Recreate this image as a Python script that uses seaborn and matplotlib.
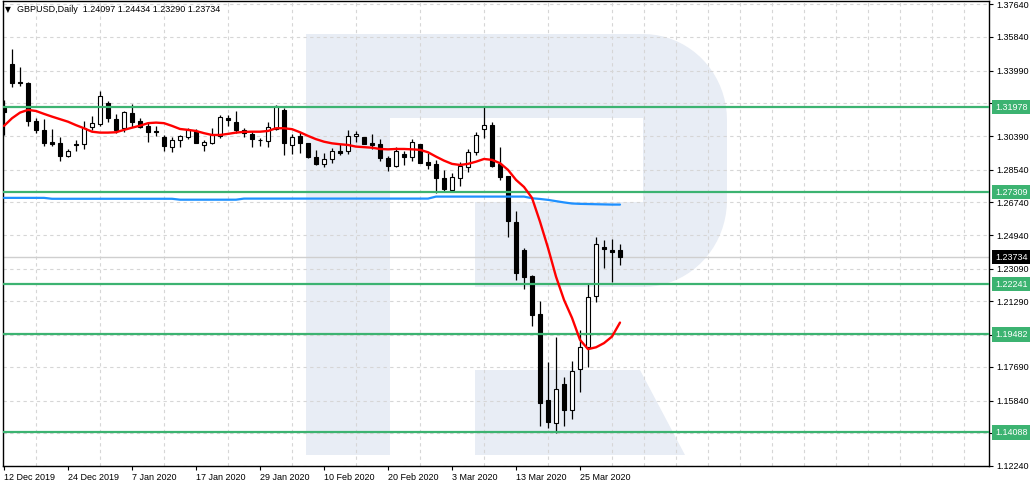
import numpy as np
import pandas as pd
import matplotlib
matplotlib.use("Agg")
import matplotlib.pyplot as plt
import matplotlib.ticker as mticker
from matplotlib.patches import Polygon
from matplotlib.transforms import Affine2D
import seaborn as sns

# ---------------- data ----------------
symbol = "GBPUSD,Daily"

opens = [1.3201, 1.3436, 1.3335, 1.3331, 1.3122, 1.3073, 1.3007, 1.3001, 1.2931, 1.2994,
         1.2994, 1.3088, 1.3106, 1.3221, 1.3133, 1.3082, 1.3166, 1.3122, 1.3095, 1.3067,
         1.3036, 1.2981, 1.3016, 1.3036, 1.3067, 1.2992, 1.3003, 1.3041, 1.3139, 1.3115,
         1.3073, 1.3051, 1.3018, 1.3012, 1.3080, 1.3183, 1.2989, 1.3038, 1.2999, 1.2923,
         1.2884, 1.2912, 1.2957, 1.2959, 1.3038, 1.3034, 1.2999, 1.2996, 1.2917, 1.2876,
         1.2941, 1.2923, 1.2996, 1.2897, 1.2886, 1.2807, 1.2744, 1.2807, 1.2868, 1.2950,
         1.3077, 1.3100, 1.2884, 1.2820, 1.2567, 1.2413, 1.2270, 1.2059, 1.1588, 1.1463,
         1.1676, 1.1534, 1.1757, 1.1877, 1.2161, 1.2427, 1.2413, 1.24097]
highs = [1.3238, 1.3518, 1.3421, 1.3338, 1.3137, 1.3133, 1.3078, 1.3036, 1.2968, 1.3018,
         1.3124, 1.3150, 1.3287, 1.3232, 1.3159, 1.3176, 1.3214, 1.3140, 1.3110, 1.3096,
         1.3045, 1.3036, 1.3045, 1.3084, 1.3077, 1.3018, 1.3085, 1.3155, 1.3155, 1.3177,
         1.3082, 1.3067, 1.3030, 1.3115, 1.3210, 1.3192, 1.3049, 1.3063, 1.3003, 1.2963,
         1.2945, 1.2972, 1.2994, 1.3073, 1.3067, 1.3036, 1.3049, 1.3023, 1.2930, 1.2981,
         1.2959, 1.3021, 1.2998, 1.2945, 1.2908, 1.2853, 1.2838, 1.2898, 1.2968, 1.3060,
         1.3205, 1.3115, 1.2981, 1.2822, 1.2627, 1.2422, 1.2274, 1.2132, 1.1797, 1.1934,
         1.1714, 1.1802, 1.1973, 1.2229, 1.2484, 1.2468, 1.2473, 1.24434]
lows = [1.3045, 1.3308, 1.3316, 1.3096, 1.3058, 1.2985, 1.2985, 1.2904, 1.2923, 1.2959,
        1.2967, 1.3071, 1.3095, 1.3117, 1.3056, 1.3060, 1.3091, 1.3082, 1.3008, 1.3040,
        1.2959, 1.2953, 1.2981, 1.3021, 1.2999, 1.2959, 1.2994, 1.3030, 1.3096, 1.3055,
        1.3033, 1.2978, 1.2985, 1.2981, 1.3071, 1.2937, 1.2941, 1.2948, 1.2917, 1.2880,
        1.2871, 1.2893, 1.2935, 1.2941, 1.3008, 1.2994, 1.2968, 1.2902, 1.2849, 1.2871,
        1.2880, 1.2904, 1.2890, 1.2858, 1.2725, 1.2739, 1.2739, 1.2766, 1.2843, 1.2935,
        1.3030, 1.2871, 1.2798, 1.2486, 1.2248, 1.2200, 1.1996, 1.1445, 1.1432, 1.1408,
        1.1446, 1.1485, 1.1633, 1.1771, 1.2128, 1.2315, 1.2238, 1.23290]
closes = [1.3173, 1.3330, 1.3333, 1.3124, 1.3074, 1.3003, 1.2997, 1.2931, 1.2956, 1.2989,
          1.3084, 1.3110, 1.3258, 1.3137, 1.3074, 1.3170, 1.3118, 1.3089, 1.3063, 1.3060,
          1.2986, 1.3016, 1.3038, 1.3074, 1.3003, 1.3007, 1.3045, 1.3143, 1.3128, 1.3071,
          1.3055, 1.3025, 1.3016, 1.3091, 1.3205, 1.2999, 1.3033, 1.2999, 1.2926, 1.2884,
          1.2912, 1.2957, 1.2948, 1.3038, 1.3049, 1.2997, 1.2992, 1.2920, 1.2876, 1.2957,
          1.2926, 1.3005, 1.2893, 1.2880, 1.2810, 1.2748, 1.2814, 1.2875, 1.2950, 1.3044,
          1.3099, 1.2876, 1.2816, 1.2574, 1.2288, 1.2266, 1.2057, 1.1573, 1.1468, 1.1647,
          1.1533, 1.1746, 1.1877, 1.2153, 1.2444, 1.2417, 1.2403, 1.23734]

ma_red = [1.3095, 1.3137, 1.3168, 1.3183, 1.3177, 1.3161, 1.3146, 1.3132, 1.3118, 1.3099,
          1.3082, 1.3063, 1.3058, 1.3058, 1.3060, 1.3073, 1.3085, 1.3096, 1.3110, 1.3113,
          1.3110, 1.3095, 1.3078, 1.3073, 1.3067, 1.3055, 1.3045, 1.3045, 1.3051, 1.3058,
          1.3062, 1.3063, 1.3063, 1.3067, 1.3082, 1.3082, 1.3077, 1.3060, 1.3040, 1.3022,
          1.3008, 1.2999, 1.2994, 1.2990, 1.2981, 1.2978, 1.2975, 1.2968, 1.2966, 1.2968,
          1.2968, 1.2966, 1.2963, 1.2950, 1.2926, 1.2904, 1.2886, 1.2880, 1.2886, 1.2898,
          1.2913, 1.2908, 1.2890, 1.2853, 1.2798, 1.2759, 1.2699, 1.2568, 1.2424, 1.2266,
          1.2138, 1.2039, 1.1918, 1.1867, 1.1877, 1.1900, 1.1936, 1.2013]

ma_blue = [1.2699, 1.2699, 1.2699, 1.2699, 1.2699, 1.2699, 1.2694, 1.2694, 1.2694, 1.2694,
           1.2694, 1.2694, 1.2694, 1.2694, 1.2694, 1.2694, 1.2694, 1.2694, 1.2694, 1.2694,
           1.2694, 1.2694, 1.2689, 1.2689, 1.2689, 1.2689, 1.2689, 1.2689, 1.2689, 1.2689,
           1.2695, 1.2695, 1.2695, 1.2695, 1.2695, 1.2695, 1.2695, 1.2695, 1.2695, 1.2695,
           1.2695, 1.2695, 1.2695, 1.2695, 1.2695, 1.2695, 1.2695, 1.2695, 1.2695, 1.2695,
           1.2695, 1.2695, 1.2695, 1.2695, 1.2706, 1.2706, 1.2706, 1.2706, 1.2706, 1.2706,
           1.2706, 1.2706, 1.2706, 1.2706, 1.2706, 1.2706, 1.2697, 1.2693, 1.2688, 1.2681,
           1.2674, 1.2668, 1.2666, 1.2665, 1.2664, 1.2663, 1.2662, 1.2662]

levels = [1.31978, 1.27309, 1.22241, 1.19482, 1.14088]
last_price = 1.23734

date_labels = ["12 Dec 2019", "24 Dec 2019", "7 Jan 2020", "17 Jan 2020", "29 Jan 2020",
               "10 Feb 2020", "20 Feb 2020", "3 Mar 2020", "13 Mar 2020", "25 Mar 2020"]
price_ticks = [1.37640, 1.35840, 1.33990, 1.32190, 1.30390, 1.28540, 1.26740, 1.24940,
               1.23090, 1.21290, 1.19440, 1.17690, 1.15840, 1.14040, 1.12240]
# tick labels hidden behind the level price boxes in the reference
hidden_ticks = [1.32190, 1.19440, 1.14040]

# ---------------- styling ----------------
sns.set_theme(style="white")
plt.rcParams['font.family'] = ['Liberation Sans', 'DejaVu Sans']
plt.rcParams['axes.edgecolor'] = 'black'

GREEN = '#3cb371'
BLUE = '#1e90ff'
RED = '#ff0000'
GRID = '#d6d6d6'
WM = '#e8edf5'
FS = 6.5

W, H = 1035, 490
fig = plt.figure(figsize=(W / 100, H / 100), dpi=100)
fig.patch.set_facecolor('white')
ax = fig.add_axes([3 / W, (H - 466) / H, 986 / W, 465 / H])
ax.set_facecolor('white')

df = pd.DataFrame({'bar': np.arange(len(opens)), 'open': opens, 'high': highs,
                   'low': lows, 'close': closes, 'ma_red': ma_red, 'ma_blue': ma_blue})

# ---------------- background watermark (pixel space decoration) ----------------
px = Affine2D().scale(1 / W, -1 / H).translate(0, 1) + fig.transFigure
t1 = np.linspace(-np.pi / 2, 0, 20)
t2 = np.linspace(0, np.pi / 2, 20)
arc1 = np.column_stack([643 + 84 * np.cos(t1), 120 + 86 * np.sin(t1)])
arc2 = np.column_stack([643 + 84 * np.cos(t2), 200 + 87 * np.sin(t2)])
outline = np.vstack([[[306, 34]], arc1, arc2,
                     [[475, 287], [475, 202], [643, 202], [643, 118], [390, 118],
                      [390, 455], [306, 455], [306, 34]]])
ax.add_patch(Polygon(outline, closed=True, facecolor=WM, edgecolor='none',
                     transform=px, zorder=0.1))
ax.add_patch(Polygon([[475, 370], [640, 370], [685, 455], [475, 455]], closed=True,
                     facecolor=WM, edgecolor='none', transform=px, zorder=0.1))

# ---------------- limits, ticks, grid ----------------
ax.set_xlim(-0.125, 123.125)
ax.set_ylim(1.1224, 1.3782)

ax.set_xticks(np.arange(0, 8 * len(date_labels), 8))
ax.set_xticklabels(date_labels)
for lbl in ax.get_xticklabels():
    lbl.set_horizontalalignment('left')
ax.xaxis.set_minor_locator(mticker.MultipleLocator(4))

ax.yaxis.tick_right()
ax.set_yticks(price_ticks)
ax.set_yticklabels(["" if v in hidden_ticks else f"{v:.5f}" for v in price_ticks])

ax.tick_params(axis='x', which='major', bottom=True, length=3, width=0.8, pad=2,
               labelsize=FS, colors='black', direction='out')
ax.tick_params(axis='x', which='minor', bottom=False, length=0)
ax.tick_params(axis='y', which='major', right=True, left=False, labelright=True,
               labelleft=False, length=3, width=0.8, pad=2, labelsize=FS,
               colors='black', direction='out')

ax.set_axisbelow(True)
ax.grid(True, which='minor', axis='x', color=GRID, ls=(0, (3, 3)), lw=0.8)
ax.grid(True, which='major', axis='y', color=GRID, ls=(0, (3, 3)), lw=0.8)
ax.grid(False, which='major', axis='x')
for s in ax.spines.values():
    s.set_color('black')
    s.set_linewidth(1.0)

# ---------------- current price line ----------------
ax.axhline(last_price, color='#cfcfcf', lw=1.0, zorder=1)

# ---------------- candles ----------------
o = df['open'].to_numpy()
c = df['close'].to_numpy()
bull = c >= o
ax.vlines(df['bar'], df['low'], df['high'], colors='black', lw=0.9, zorder=3)
ax.bar(df['bar'], np.abs(c - o), bottom=np.minimum(o, c), width=0.62,
       color=np.where(bull, 'white', 'black'), edgecolor='black', linewidth=0.8,
       zorder=3.1)

# ---------------- horizontal levels ----------------
for lv in levels:
    ax.axhline(lv, color=GREEN, lw=1.6, zorder=4)

# ---------------- moving averages (seaborn) ----------------
sns.lineplot(data=df, x='bar', y='ma_blue', ax=ax, color=BLUE, lw=1.6, zorder=5)
sns.lineplot(data=df, x='bar', y='ma_red', ax=ax, color=RED, lw=1.7, zorder=5)
ax.set_xlabel('')
ax.set_ylabel('')

# ---------------- price labels on the right axis ----------------
ytr = ax.get_yaxis_transform()
lx = 1 + 6 / 986
for lv in levels:
    ax.text(lx, lv, f"{lv:.5f}", transform=ytr, ha='left', va='center', fontsize=FS,
            color='white', clip_on=False, zorder=10,
            bbox=dict(boxstyle='square,pad=0.3', fc=GREEN, ec='none'))
ax.text(lx, last_price, f"{last_price:.5f}", transform=ytr, ha='left', va='center',
        fontsize=FS, color='white', clip_on=False, zorder=10,
        bbox=dict(boxstyle='square,pad=0.3', fc='black', ec='none'))

# ---------------- title ----------------
title = (f"{symbol}  {opens[-1]:.5f} {highs[-1]:.5f} "
         f"{lows[-1]:.5f} {closes[-1]:.5f}")
fig.text(8 / W, 1 - 10 / H, "\u25BC", fontsize=5.5, ha='center', va='center',
         color='black', family=['DejaVu Sans'])
fig.text(17 / W, 1 - 10 / H, title, fontsize=FS, ha='left', va='center', color='black')

fig.savefig('out.png', dpi=100, facecolor='white')
